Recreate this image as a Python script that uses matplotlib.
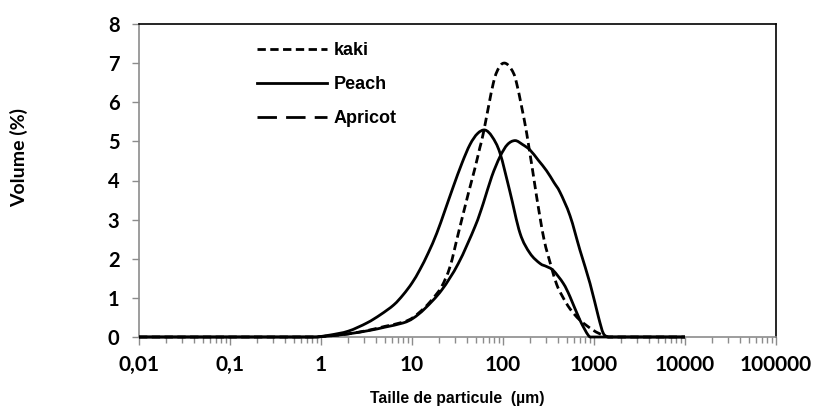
import numpy as np
import matplotlib
matplotlib.use("Agg")
import matplotlib.pyplot as plt
from matplotlib.lines import Line2D
from matplotlib.path import Path
from matplotlib.patches import PathPatch
from matplotlib.ticker import LogLocator, FixedLocator, NullFormatter

# Particle size distributions (size in µm, volume in %)
kaki_size = [0.01, 0.89, 1.26, 2.0, 3.45, 5.0, 8.0, 10.3, 13.9, 17.2, 21.2, 26.2, 32.3,
             41.6, 49.0, 55.8, 60.8, 78.3, 91.2, 105, 123, 141, 182, 234, 282, 339,
             388, 447, 545, 701, 984, 1268, 1413, 10000]
kaki_vol = [0, 0, 0.03, 0.08, 0.18, 0.27, 0.38, 0.50, 0.76, 1.00, 1.29, 1.80, 2.65,
            3.67, 4.30, 4.85, 5.21, 6.49, 6.90, 7.00, 6.85, 6.49, 5.21, 3.59, 2.50, 1.80,
            1.35, 1.05, 0.72, 0.43, 0.17, 0.04, 0, 0]

peach_size = [0.01, 0.89, 1.26, 2.0, 3.2, 4.5, 6.3, 8.0, 10.0, 12.2, 15.1, 18.7, 22.9,
              28.4, 35.5, 43.4, 52.5, 63.4, 75.9, 92.7, 119, 154, 198, 255, 302, 357,
              460, 545, 701, 867, 955, 10000]
peach_vol = [0, 0, 0.05, 0.15, 0.36, 0.57, 0.82, 1.08, 1.38, 1.72, 2.15, 2.65, 3.22,
             3.84, 4.45, 4.92, 5.20, 5.29, 5.12, 4.70, 3.72, 2.65, 2.14, 1.88, 1.80, 1.70,
             1.37, 1.03, 0.43, 0.04, 0, 0]

apricot_size = [0.01, 0.89, 1.26, 2.0, 3.45, 5.0, 8.0, 10.3, 13.9, 21.2, 32.3, 49.2, 60.8,
                75.2, 92.7, 112, 136, 164, 198, 244, 301, 363, 423, 545, 701, 904,
                1117, 1268, 1439, 10000]
apricot_vol = [0, 0, 0.03, 0.08, 0.17, 0.25, 0.36, 0.48, 0.73, 1.20, 1.88, 2.82, 3.42,
               4.10, 4.61, 4.92, 5.02, 4.92, 4.78, 4.52, 4.25, 3.95, 3.70, 3.10, 2.22, 1.37,
               0.52, 0.09, 0, 0]

series_labels = ["kaki", "Peach", "Apricot"]
x_ticks = [0.01, 0.1, 1, 10, 100, 1000, 10000, 100000]
x_tick_labels = ["0,01", "0,1", "1", "10", "100", "1000", "10000", "100000"]
y_ticks = [0, 1, 2, 3, 4, 5, 6, 7, 8]

GREY = "#8c8c8c"
TICK_FONT = ["Lato", "DejaVu Sans"]
LW = 2.0
KAKI_DASH = (0, (3, 1.6))
APRICOT_DASH = (0, (7, 3.3))


def smooth_path(sizes, values):
    """Smoothed line (Catmull-Rom style, in log-size space) through the
    measured points; the flat zero runs at both ends stay straight."""
    lx = np.log10(np.asarray(sizes, float))
    y = np.asarray(values, float)
    inner = slice(1, len(lx) - 1)
    px, py = lx[inner], y[inner]
    n = len(px)
    verts = [(sizes[0], values[0]), (10 ** px[0], py[0])]
    codes = [Path.MOVETO, Path.LINETO]
    for i in range(n - 1):
        i0 = max(i - 1, 0)
        i3 = min(i + 2, n - 1)
        c1 = (px[i] + (px[i + 1] - px[i0]) / 6, py[i] + (py[i + 1] - py[i0]) / 6)
        c2 = (px[i + 1] - (px[i3] - px[i]) / 6, py[i + 1] - (py[i3] - py[i]) / 6)
        verts += [(10 ** c1[0], c1[1]), (10 ** c2[0], c2[1]),
                  (10 ** px[i + 1], py[i + 1])]
        codes += [Path.CURVE4] * 3
    verts.append((sizes[-1], values[-1]))
    codes.append(Path.LINETO)
    return Path(verts, codes)


fig = plt.figure(figsize=(8.14, 4.09), dpi=100)
ax = fig.add_axes([139 / 814, 1 - 337 / 409, (776 - 139) / 814, (337 - 24) / 409])
ax.set_xscale("log")
ax.set_xlim(0.01, 100000)
ax.set_ylim(0, 8)

for sizes, vols, ls in [(kaki_size, kaki_vol, KAKI_DASH),
                        (peach_size, peach_vol, "-"),
                        (apricot_size, apricot_vol, "-")]:
    patch = PathPatch(smooth_path(sizes, vols), facecolor="none",
                      edgecolor="black", lw=LW, linestyle=ls,
                      joinstyle="round", capstyle="butt", clip_on=False, zorder=3)
    ax.add_patch(patch)

ax.xaxis.set_major_locator(FixedLocator(x_ticks))
ax.set_xticklabels(x_tick_labels)
ax.xaxis.set_minor_locator(LogLocator(base=10, subs=range(2, 10), numticks=20))
ax.xaxis.set_minor_formatter(NullFormatter())
ax.set_yticks(y_ticks)

for lab in ax.get_xticklabels():
    lab.set_family(TICK_FONT)
    lab.set_fontweight("bold")
    lab.set_fontsize(15)
for lab in ax.get_yticklabels():
    lab.set_family(TICK_FONT)
    lab.set_fontweight("bold")
    lab.set_fontsize(14.5)

ax.tick_params(axis="x", which="major", direction="out", length=6, width=1,
               color=GREY, pad=7)
ax.tick_params(axis="x", which="minor", direction="out", length=4, width=1,
               color=GREY)
ax.tick_params(axis="y", which="major", direction="out", length=5, width=1,
               color=GREY, pad=9)

for side in ("left", "bottom"):
    ax.spines[side].set_color(GREY)
    ax.spines[side].set_linewidth(1.2)
for side in ("top", "right"):
    ax.spines[side].set_color("black")
    ax.spines[side].set_linewidth(1.2)

fig.text(19 / 814, 1 - 157 / 409, "Volume (%)", rotation=90, ha="center",
         va="center", fontsize=14, fontweight="bold", family=TICK_FONT)
fig.text(457 / 814, 1 - 399 / 409, "Taille de particule  (µm)", ha="center",
         va="center", fontsize=11.3, fontweight="bold",
         family=["Liberation Sans", "DejaVu Sans"])

handles = [
    Line2D([], [], color="black", lw=LW, ls=KAKI_DASH),
    Line2D([], [], color="black", lw=LW),
    Line2D([], [], color="black", lw=LW, ls=APRICOT_DASH),
]
leg = ax.legend(handles, series_labels, loc="upper left",
                bbox_to_anchor=(257 / 814, 1 - 42 / 409),
                bbox_transform=fig.transFigure, frameon=False, borderpad=0,
                borderaxespad=0, handlelength=3.85, handletextpad=0.4,
                labelspacing=0.95,
                prop={"family": ["Liberation Sans", "DejaVu Sans"],
                      "weight": "bold", "size": 13})

fig.savefig("out.png", dpi=100)
